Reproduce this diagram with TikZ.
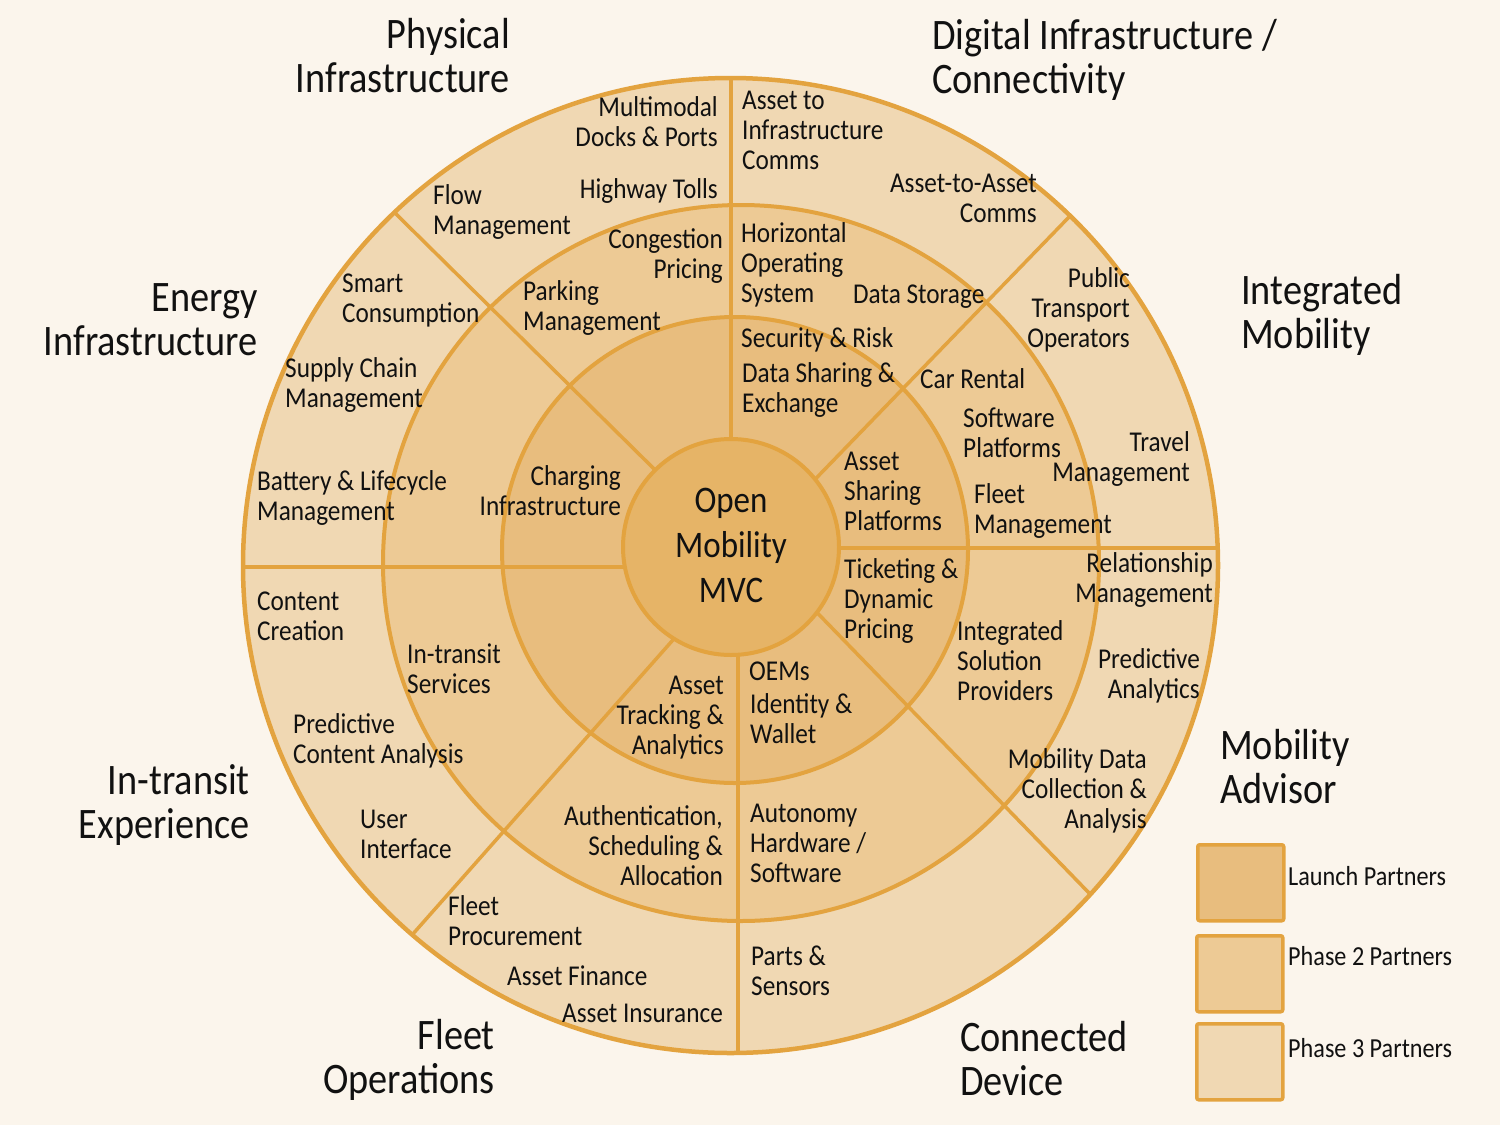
\documentclass[tikz,border=0pt]{standalone}
\usepackage{fontspec}
\setmainfont{Carlito}[FakeStretch=0.88]
\definecolor{bg}{HTML}{FBF5EC}
\definecolor{ring3}{HTML}{F0D8B3}
\definecolor{ring2}{HTML}{EDCA95}
\definecolor{ring1}{HTML}{E8BD7E}
\definecolor{corefill}{HTML}{E6B467}
\definecolor{edge}{HTML}{E3A33F}
\definecolor{ink}{HTML}{111111}
\newcommand\lblfont{\fontsize{28.7}{30}\selectfont}
\newcommand\ttlfont{\fontsize{43.5}{44}\selectfont}
\newcommand\corefont{\fontsize{37.5}{45}\selectfont}
\newcommand\legfont{\fontsize{27.5}{30}\selectfont}
% multi-line nodes: the base anchor sits on the baseline of the LAST line
\tikzset{
  lbl/.style={font=\lblfont, inner sep=0pt, text=ink},
  lL/.style={lbl, align=left, anchor=base west},
  lR/.style={lbl, align=right, anchor=base east},
  ttl/.style={font=\ttlfont, inner sep=0pt, text=ink},
  tL/.style={ttl, align=left, anchor=base west},
  tR/.style={ttl, align=right, anchor=base east},
  coretext/.style={font=\corefont, inner sep=0pt, text=ink, align=center, anchor=base},
  spoke/.style={draw=edge, line width=3.5pt},
  ringline/.style={draw=edge, line width=4pt},
  legbox/.style={draw=edge, line width=3.5pt, rounded corners=2pt, minimum width=86pt, minimum height=76pt, anchor=north west, inner sep=0pt},
  legL/.style={font=\legfont, inner sep=0pt, text=ink, anchor=base west}
}
\begin{document}
\begin{tikzpicture}[x=1pt,y=-1pt]
\useasboundingbox (0,0) rectangle (1500,1125);
\fill[bg] (0,0) rectangle (1500,1125);

% ring fills
\fill[ring3] (730.5,565.5) circle[radius=487.5pt];
\fill[ring2] (741,563) circle[radius=358pt];
\fill[ring1] (735,550) circle[radius=233pt];

% spoke end points
\coordinate (s1o) at (731,78);    \coordinate (s1i) at (731,460);
\coordinate (s2o) at (1070,216);  \coordinate (s2i) at (797,498);
\coordinate (s3o) at (1218,548);  \coordinate (s3i) at (820,548);
\coordinate (s4o) at (1090,894);  \coordinate (s4i) at (800,595);
\coordinate (s5o) at (738,1053);  \coordinate (s5i) at (738,635);
\coordinate (s6o) at (412,935);   \coordinate (s6i) at (691,619.5);
\coordinate (s7o) at (243,567);   \coordinate (s7i) at (640,567);
\coordinate (s8o) at (394,212);   \coordinate (s8i) at (676,490.6);
\foreach \k in {1,...,8} {\draw[spoke] (s\k o) -- (s\k i);}

% core and ring outlines
\filldraw[fill=corefill, ringline] (731,547) circle[radius=108pt];
\draw[ringline] (735,550) circle[radius=233pt];
\draw[ringline] (741,563) circle[radius=358pt];
\draw[ringline, line width=4.5pt] (730.5,565.5) circle[radius=487.5pt];

% centre
\node[coretext] (mvc) at (731,602) {Open\\Mobility\\MVC};

% Physical infrastructure
\node[lR] (mdp) at (718,146) {Multimodal\\Docks \& Ports};
\node[lR] (ht) at (718,198) {Highway Tolls};
\node[lL] (fm) at (433,234) {Flow\\Management};
\node[lR] (cp) at (723,278) {Congestion\\Pricing};
\node[lL] (pm) at (523,330) {Parking\\Management};

% Digital infrastructure
\node[lL] (a2i) at (742,169) {Asset to\\Infrastructure\\Comms};
\node[lR] (a2a) at (1037,222) {Asset-to-Asset\\Comms};
\node[lL] (hos) at (741,302) {Horizontal\\Operating\\System};
\node[lL] (ds) at (853,303) {Data Storage};
\node[lL] (sr) at (741,347) {Security \& Risk};
\node[lL] (dse) at (742,412) {Data Sharing \&\\Exchange};

% Integrated mobility
\node[lR] (pto) at (1130,347) {Public\\Transport\\Operators};
\node[lL] (cr) at (920,388) {Car Rental};
\node[lL] (sp) at (963,457) {Software\\Platforms};
\node[lR] (tm) at (1190,481) {Travel\\Management};
\node[lL] (asp) at (844,530) {Asset\\Sharing\\Platforms};
\node[lL] (flm) at (974,533) {Fleet\\Management};

% Mobility advisor
\node[lL] (tdp) at (844,638) {Ticketing \&\\Dynamic\\Pricing};
\node[lR] (rm) at (1213,602) {Relationship\\Management};
\node[lL] (isp) at (957,700) {Integrated\\Solution\\Providers};
\node[lR] (pa) at (1200,698) {Predictive\\Analytics};
\node[lR] (mdc) at (1147,828) {Mobility Data\\Collection \&\\Analysis};

% Connected device
\node[lL] (oem) at (749,680) {OEMs};
\node[lL] (idw) at (750,743) {Identity \&\\Wallet};
\node[lL] (ahs) at (750,882) {Autonomy\\Hardware /\\Software};
\node[lL] (ps) at (751,995) {Parts \&\\Sensors};

% Fleet operations
\node[lR] (ata) at (724,754) {Asset\\Tracking \&\\Analytics};
\node[lR] (asa) at (723,885) {Authentication,\\Scheduling \&\\Allocation};
\node[lL] (fp) at (448,945) {Fleet\\Procurement};
\node[lL] (af) at (507,985) {Asset Finance};
\node[lR] (ai) at (723,1022) {Asset Insurance};

% In-transit experience
\node[lL] (cc) at (257,640) {Content\\Creation};
\node[lL] (its) at (407,693) {In-transit\\Services};
\node[lL] (pca) at (293,763) {Predictive\\Content Analysis};
\node[lL] (ui) at (360,858) {User\\Interface};

% Energy infrastructure
\node[lL] (sc) at (342,322) {Smart\\Consumption};
\node[lL] (scm) at (285,407) {Supply Chain\\Management};
\node[lL] (blm) at (257,520) {Battery \& Lifecycle\\Management};
\node[lR] (ci) at (621,515) {Charging\\Infrastructure};

% sector titles
\node[tR] (tphys) at (510,92) {Physical\\Infrastructure};
\node[tL] (tdig) at (932,93) {Digital Infrastructure /\\Connectivity};
\node[tR] (tener) at (258,355) {Energy\\Infrastructure};
\node[tL] (tint) at (1241,348) {Integrated\\Mobility};
\node[tL] (tadv) at (1220,803) {Mobility\\Advisor};
\node[tR] (ttr) at (250,838) {In-transit\\Experience};
\node[tR] (tfleet) at (495,1093) {Fleet\\Operations};
\node[tL] (tcon) at (960,1095) {Connected\\Device};

% legend
\node[legbox, fill=ring1] (box1) at (1196,843) {};
\node[legbox, fill=ring2] (box2) at (1195,934) {};
\node[legbox, fill=ring3] (box3) at (1195,1022) {};
\node[legL] (leg1) at (1288,885) {Launch Partners};
\node[legL] (leg2) at (1288,965) {Phase 2 Partners};
\node[legL] (leg3) at (1288,1057) {Phase 3 Partners};
\end{tikzpicture}
\end{document}
